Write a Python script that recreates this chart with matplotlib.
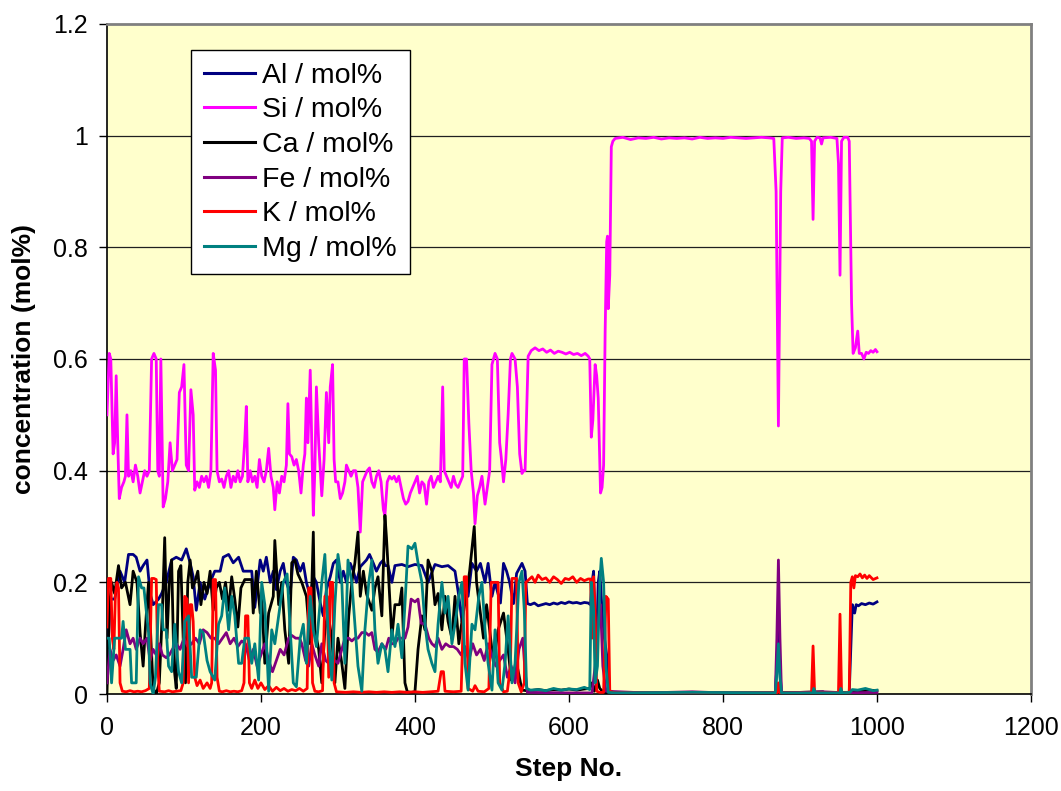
import numpy as np
import matplotlib
matplotlib.use('Agg')
import matplotlib.pyplot as plt

# font
plt.rcParams['font.family'] = ['Liberation Sans', 'DejaVu Sans']

# data: (step, concentration)
al_pts = [(0, 0.02), (4, 0.17), (10, 0.17), (17, 0.22), (23, 0.2), (28, 0.25), (34, 0.25), (38, 0.245),
          (43, 0.22), (47, 0.23), (52, 0.24), (56, 0.18), (60, 0.16), (67, 0.17), (71, 0.18), (77, 0.2),
          (84, 0.24), (90, 0.245), (97, 0.24), (103, 0.26), (108, 0.235), (112, 0.21), (116, 0.15),
          (121, 0.2), (127, 0.17), (134, 0.2), (140, 0.22), (147, 0.22), (151, 0.245), (158, 0.25),
          (164, 0.235), (171, 0.245), (177, 0.22), (179, 0.22), (188, 0.22), (192, 0.155), (199, 0.24),
          (203, 0.22), (207, 0.245), (212, 0.2), (216, 0.22), (220, 0.187), (225, 0.22), (229, 0.234),
          (233, 0.2), (238, 0.18), (242, 0.245), (246, 0.24), (251, 0.22), (255, 0.234), (259, 0.2),
          (264, 0.175), (268, 0.21), (272, 0.2), (277, 0.163), (281, 0.14), (285, 0.187), (290, 0.21),
          (294, 0.234), (298, 0.24), (303, 0.2), (307, 0.22), (311, 0.2), (316, 0.234), (320, 0.22),
          (324, 0.2), (329, 0.228), (333, 0.234), (337, 0.24), (341, 0.25), (346, 0.234), (350, 0.22),
          (355, 0.234), (359, 0.24), (361, 0.23), (365, 0.23), (370, 0.2), (374, 0.23), (383, 0.232),
          (391, 0.228), (400, 0.232), (409, 0.23), (417, 0.2), (426, 0.232), (435, 0.228), (443, 0.23),
          (452, 0.22), (457, 0.175), (461, 0.13), (465, 0.2), (469, 0.175), (474, 0.234), (480, 0.22),
          (485, 0.234), (491, 0.2), (495, 0.234), (500, 0.175), (504, 0.2), (511, 0.163), (515, 0.234),
          (519, 0.22), (523, 0.2), (528, 0.162), (532, 0.216), (539, 0.234), (543, 0.22), (546, 0.162),
          (550, 0.16), (555, 0.163), (560, 0.158), (565, 0.16), (570, 0.162), (575, 0.16), (580, 0.163),
          (585, 0.161), (590, 0.164), (595, 0.162), (600, 0.165), (605, 0.163), (610, 0.164),
          (615, 0.162), (620, 0.164), (625, 0.163), (628, 0.16), (630, 0.2), (632, 0.22), (634, 0.12),
          (636, 0.1), (638, 0.2), (640, 0.22), (643, 0.15), (646, 0.1), (648, 0.08), (650, 0.06),
          (653, 0.005), (660, 0.002), (760, 0.002), (868, 0.002), (870, 0.05), (872, 0.14), (874, 0.04),
          (876, 0.002), (964, 0.003), (966, 0.08), (968, 0.16), (971, 0.145), (973, 0.16), (976, 0.158),
          (980, 0.162), (985, 0.16), (990, 0.163), (995, 0.161), (1000, 0.165)]

si_pts = [(0, 0.5), (3, 0.61), (5, 0.6), (8, 0.43), (10, 0.45), (12, 0.57), (14, 0.45), (16, 0.35),
          (19, 0.37), (22, 0.38), (24, 0.39), (26, 0.5), (28, 0.39), (31, 0.4), (34, 0.38), (37, 0.41),
          (40, 0.39), (43, 0.36), (46, 0.38), (49, 0.4), (52, 0.39), (55, 0.4), (58, 0.6), (61, 0.61),
          (64, 0.6), (66, 0.4), (68, 0.39), (70, 0.6), (73, 0.335), (76, 0.35), (79, 0.38), (82, 0.45),
          (85, 0.4), (88, 0.41), (91, 0.42), (94, 0.54), (97, 0.55), (100, 0.59), (103, 0.41),
          (106, 0.4), (109, 0.545), (112, 0.5), (114, 0.365), (117, 0.38), (120, 0.37), (123, 0.39),
          (126, 0.38), (129, 0.39), (132, 0.37), (135, 0.4), (138, 0.61), (141, 0.58), (143, 0.4),
          (146, 0.38), (149, 0.385), (152, 0.37), (155, 0.39), (158, 0.4), (161, 0.37), (164, 0.39),
          (167, 0.38), (170, 0.4), (173, 0.38), (176, 0.39), (179, 0.455), (181, 0.515), (183, 0.38),
          (186, 0.4), (189, 0.38), (192, 0.39), (195, 0.37), (198, 0.42), (201, 0.39), (204, 0.38),
          (207, 0.4), (210, 0.44), (213, 0.39), (216, 0.37), (218, 0.33), (221, 0.38), (224, 0.36),
          (227, 0.39), (230, 0.38), (233, 0.41), (235, 0.52), (237, 0.43), (240, 0.425), (243, 0.41),
          (246, 0.42), (249, 0.4), (252, 0.36), (255, 0.41), (257, 0.43), (259, 0.53), (261, 0.45),
          (264, 0.58), (266, 0.45), (268, 0.32), (270, 0.4), (272, 0.55), (275, 0.45), (279, 0.355),
          (282, 0.42), (285, 0.54), (288, 0.45), (290, 0.55), (293, 0.59), (295, 0.42), (297, 0.38),
          (300, 0.38), (303, 0.35), (306, 0.36), (309, 0.38), (311, 0.41), (314, 0.4), (317, 0.39),
          (320, 0.4), (323, 0.4), (326, 0.37), (329, 0.29), (332, 0.38), (335, 0.39), (338, 0.4),
          (341, 0.405), (344, 0.38), (347, 0.37), (350, 0.39), (353, 0.4), (356, 0.38), (359, 0.33),
          (361, 0.32), (364, 0.38), (367, 0.39), (370, 0.385), (373, 0.39), (376, 0.38), (379, 0.39),
          (382, 0.37), (385, 0.35), (388, 0.34), (391, 0.345), (394, 0.36), (397, 0.37), (400, 0.38),
          (403, 0.39), (406, 0.36), (409, 0.38), (412, 0.375), (415, 0.34), (418, 0.38), (421, 0.39),
          (424, 0.37), (427, 0.38), (430, 0.39), (433, 0.38), (436, 0.55), (438, 0.4), (441, 0.39),
          (444, 0.38), (447, 0.37), (450, 0.39), (453, 0.375), (456, 0.37), (459, 0.38), (462, 0.39),
          (464, 0.6), (467, 0.6), (470, 0.485), (473, 0.4), (476, 0.36), (478, 0.305), (481, 0.355),
          (484, 0.37), (487, 0.39), (491, 0.34), (494, 0.37), (497, 0.4), (500, 0.59), (504, 0.61),
          (507, 0.6), (510, 0.45), (512, 0.425), (515, 0.38), (518, 0.42), (521, 0.5), (524, 0.6),
          (526, 0.61), (530, 0.6), (533, 0.55), (536, 0.43), (539, 0.395), (541, 0.4), (543, 0.4),
          (547, 0.605), (551, 0.615), (556, 0.62), (561, 0.615), (566, 0.618), (571, 0.612),
          (576, 0.616), (581, 0.61), (586, 0.614), (591, 0.612), (596, 0.609), (601, 0.612),
          (606, 0.608), (611, 0.61), (616, 0.606), (621, 0.61), (625, 0.605), (627, 0.6), (629, 0.46),
          (631, 0.49), (634, 0.59), (636, 0.57), (638, 0.53), (641, 0.36), (643, 0.37), (645, 0.41),
          (647, 0.65), (649, 0.81), (650, 0.82), (651, 0.69), (653, 0.75), (655, 0.98), (657, 0.99),
          (660, 0.995), (670, 0.997), (680, 0.993), (690, 0.996), (700, 0.995), (710, 0.997),
          (720, 0.994), (730, 0.996), (740, 0.995), (750, 0.996), (760, 0.994), (770, 0.997),
          (780, 0.995), (790, 0.996), (800, 0.995), (810, 0.997), (820, 0.996), (830, 0.995),
          (840, 0.996), (850, 0.997), (860, 0.996), (866, 0.995), (869, 0.9), (872, 0.48), (875, 0.9),
          (877, 0.996), (885, 0.997), (895, 0.995), (905, 0.996), (912, 0.995), (915, 0.99),
          (917, 0.85), (919, 0.99), (922, 0.997), (926, 0.996), (928, 0.985), (930, 0.996),
          (940, 0.997), (948, 0.995), (950, 0.95), (952, 0.75), (954, 0.99), (957, 0.997),
          (962, 0.997), (964, 0.99), (967, 0.7), (969, 0.61), (972, 0.62), (975, 0.65), (977, 0.61),
          (980, 0.61), (983, 0.6), (986, 0.612), (989, 0.61), (992, 0.615), (995, 0.612),
          (998, 0.617), (1000, 0.613)]

ca_pts = [(0, 0.0), (3, 0.15), (6, 0.2), (10, 0.18), (15, 0.23), (19, 0.19), (24, 0.2), (30, 0.16),
          (34, 0.22), (39, 0.2), (43, 0.11), (47, 0.05), (50, 0.12), (54, 0.2), (57, 0.1), (60, 0.01),
          (64, 0.0), (68, 0.02), (72, 0.15), (75, 0.28), (78, 0.1), (81, 0.2), (84, 0.24), (87, 0.05),
          (90, 0.01), (93, 0.22), (96, 0.23), (99, 0.1), (102, 0.02), (105, 0.2), (108, 0.24),
          (111, 0.19), (114, 0.2), (118, 0.22), (122, 0.16), (126, 0.2), (130, 0.18), (134, 0.22),
          (138, 0.15), (142, 0.19), (146, 0.2), (150, 0.17), (154, 0.2), (158, 0.15), (162, 0.21),
          (166, 0.17), (170, 0.12), (174, 0.19), (179, 0.205), (188, 0.205), (190, 0.145), (194, 0.22),
          (199, 0.145), (201, 0.175), (205, 0.055), (210, 0.145), (216, 0.175), (218, 0.275),
          (223, 0.16), (227, 0.2), (231, 0.115), (236, 0.055), (240, 0.235), (244, 0.24), (248, 0.215),
          (253, 0.2), (259, 0.175), (264, 0.09), (268, 0.29), (270, 0.115), (275, 0.08), (279, 0.02),
          (283, 0.115), (287, 0.145), (292, 0.1), (296, 0.02), (300, 0.1), (305, 0.055), (309, 0.01),
          (314, 0.14), (318, 0.2), (322, 0.235), (326, 0.29), (329, 0.175), (333, 0.22), (337, 0.18),
          (344, 0.15), (348, 0.19), (352, 0.21), (357, 0.14), (361, 0.32), (363, 0.28), (365, 0.23),
          (370, 0.1), (374, 0.16), (380, 0.16), (383, 0.19), (387, 0.02), (390, 0.004), (395, 0.003),
          (400, 0.004), (404, 0.08), (409, 0.14), (413, 0.115), (417, 0.24), (422, 0.22), (426, 0.16),
          (430, 0.18), (435, 0.115), (439, 0.175), (443, 0.13), (448, 0.1), (452, 0.175), (457, 0.09),
          (461, 0.13), (467, 0.18), (471, 0.22), (477, 0.3), (480, 0.2), (485, 0.145), (489, 0.1),
          (493, 0.16), (497, 0.115), (502, 0.055), (508, 0.115), (515, 0.145), (521, 0.08),
          (525, 0.025), (532, 0.055), (539, 0.007), (545, 0.006), (550, 0.006), (560, 0.008),
          (570, 0.006), (580, 0.008), (590, 0.007), (600, 0.009), (610, 0.007), (620, 0.009),
          (627, 0.01), (630, 0.02), (633, 0.005), (637, 0.025), (640, 0.01), (645, 0.003),
          (655, 0.002), (760, 0.002), (870, 0.002), (872, 0.01), (875, 0.002), (930, 0.004),
          (932, 0.002), (965, 0.003), (970, 0.006), (980, 0.005), (990, 0.007), (1000, 0.006)]

fe_pts = [(0, 0.02), (4, 0.08), (8, 0.06), (12, 0.07), (17, 0.05), (21, 0.08), (25, 0.115), (30, 0.09),
          (34, 0.1), (38, 0.08), (43, 0.1), (47, 0.09), (52, 0.1), (56, 0.06), (60, 0.08), (64, 0.07),
          (68, 0.09), (72, 0.07), (77, 0.065), (81, 0.07), (85, 0.08), (90, 0.09), (95, 0.08),
          (100, 0.1), (105, 0.085), (110, 0.09), (115, 0.1), (120, 0.09), (125, 0.115), (130, 0.11),
          (135, 0.1), (140, 0.1), (145, 0.09), (150, 0.1), (155, 0.11), (160, 0.09), (165, 0.1),
          (170, 0.085), (175, 0.095), (180, 0.09), (185, 0.06), (190, 0.08), (195, 0.05), (200, 0.07),
          (205, 0.09), (210, 0.06), (215, 0.04), (220, 0.06), (225, 0.08), (230, 0.07), (236, 0.1),
          (240, 0.105), (245, 0.1), (250, 0.1), (253, 0.09), (258, 0.06), (262, 0.05), (266, 0.09),
          (270, 0.07), (275, 0.05), (279, 0.09), (284, 0.06), (288, 0.055), (292, 0.055), (296, 0.06),
          (300, 0.055), (305, 0.08), (309, 0.1), (314, 0.1), (318, 0.095), (322, 0.1), (326, 0.1),
          (331, 0.11), (336, 0.11), (340, 0.105), (344, 0.11), (348, 0.08), (352, 0.075), (357, 0.09),
          (362, 0.08), (366, 0.1), (370, 0.09), (374, 0.09), (378, 0.1), (383, 0.1), (387, 0.1),
          (391, 0.12), (395, 0.17), (400, 0.165), (404, 0.17), (408, 0.127), (413, 0.125), (418, 0.1),
          (422, 0.09), (426, 0.085), (430, 0.1), (435, 0.08), (440, 0.09), (445, 0.085), (450, 0.085),
          (455, 0.08), (460, 0.07), (465, 0.085), (470, 0.06), (475, 0.09), (480, 0.07), (485, 0.08),
          (490, 0.06), (495, 0.09), (500, 0.07), (505, 0.05), (510, 0.06), (515, 0.07), (520, 0.03),
          (525, 0.05), (530, 0.02), (535, 0.08), (540, 0.1), (543, 0.04), (546, 0.003), (600, 0.002),
          (630, 0.002), (634, 0.05), (638, 0.13), (641, 0.16), (644, 0.05), (648, 0.005),
          (700, 0.002), (760, 0.004), (800, 0.002), (868, 0.002), (870, 0.1), (872, 0.24), (874, 0.1),
          (876, 0.002), (930, 0.004), (960, 0.002), (1000, 0.003)]

k_pts = [(0, 0.12), (2, 0.207), (5, 0.207), (7, 0.1), (9, 0.08), (11, 0.18), (13, 0.2), (15, 0.19),
         (17, 0.02), (20, 0.005), (25, 0.004), (30, 0.006), (35, 0.004), (40, 0.005), (45, 0.004),
         (50, 0.006), (55, 0.01), (58, 0.207), (61, 0.207), (64, 0.205), (66, 0.05), (68, 0.005),
         (75, 0.004), (80, 0.006), (85, 0.004), (90, 0.005), (96, 0.006), (99, 0.02), (101, 0.175),
         (104, 0.17), (106, 0.02), (108, 0.16), (110, 0.16), (112, 0.13), (114, 0.03), (117, 0.015),
         (121, 0.025), (125, 0.01), (130, 0.02), (134, 0.01), (136, 0.02), (138, 0.205), (141, 0.205),
         (143, 0.03), (146, 0.005), (150, 0.004), (155, 0.006), (160, 0.004), (165, 0.005),
         (170, 0.004), (175, 0.006), (178, 0.02), (180, 0.14), (183, 0.14), (185, 0.02), (188, 0.01),
         (192, 0.025), (196, 0.01), (200, 0.02), (205, 0.008), (210, 0.015), (215, 0.005),
         (220, 0.012), (225, 0.006), (230, 0.01), (235, 0.005), (240, 0.008), (245, 0.006),
         (250, 0.01), (255, 0.005), (260, 0.01), (262, 0.19), (265, 0.19), (267, 0.02), (270, 0.005),
         (275, 0.004), (280, 0.006), (283, 0.175), (286, 0.175), (288, 0.03), (290, 0.2), (293, 0.2),
         (295, 0.02), (298, 0.004), (310, 0.003), (320, 0.004), (330, 0.003), (340, 0.004),
         (350, 0.003), (360, 0.004), (370, 0.003), (380, 0.004), (390, 0.003), (400, 0.004),
         (410, 0.003), (420, 0.004), (430, 0.005), (434, 0.04), (437, 0.04), (439, 0.005),
         (450, 0.004), (460, 0.005), (462, 0.1), (464, 0.21), (467, 0.21), (469, 0.01), (475, 0.005),
         (478, 0.015), (482, 0.005), (490, 0.004), (496, 0.01), (499, 0.2), (504, 0.2), (508, 0.2),
         (510, 0.02), (515, 0.004), (520, 0.005), (524, 0.05), (526, 0.207), (532, 0.207),
         (534, 0.02), (538, 0.004), (542, 0.02), (544, 0.2), (548, 0.205), (552, 0.21), (556, 0.2),
         (560, 0.213), (565, 0.205), (570, 0.208), (575, 0.2), (580, 0.21), (585, 0.205),
         (590, 0.198), (595, 0.207), (600, 0.205), (605, 0.21), (610, 0.2), (615, 0.207),
         (620, 0.203), (625, 0.206), (628, 0.206), (630, 0.1), (632, 0.21), (634, 0.15),
         (636, 0.005), (640, 0.003), (645, 0.003), (648, 0.175), (651, 0.17), (653, 0.005),
         (660, 0.002), (870, 0.002), (872, 0.02), (874, 0.002), (915, 0.002), (917, 0.086),
         (919, 0.002), (950, 0.002), (952, 0.143), (954, 0.002), (964, 0.003), (966, 0.2),
         (968, 0.21), (970, 0.19), (972, 0.212), (975, 0.21), (978, 0.215), (981, 0.208),
         (984, 0.213), (987, 0.207), (990, 0.212), (995, 0.205), (1000, 0.208)]

mg_pts = [(0, 0.1), (3, 0.1), (6, 0.02), (10, 0.1), (15, 0.1), (19, 0.1), (21, 0.13), (24, 0.08),
          (30, 0.08), (32, 0.02), (38, 0.02), (41, 0.21), (45, 0.19), (48, 0.19), (54, 0.11),
          (56, 0.02), (60, 0.0), (63, 0.03), (67, 0.16), (71, 0.16), (73, 0.115), (77, 0.115),
          (80, 0.05), (84, 0.04), (88, 0.125), (93, 0.04), (97, 0.02), (101, 0.13), (106, 0.14),
          (110, 0.03), (116, 0.03), (121, 0.115), (125, 0.11), (130, 0.06), (134, 0.04), (140, 0.025),
          (145, 0.125), (149, 0.14), (153, 0.19), (158, 0.115), (162, 0.175), (166, 0.14), (171, 0.055),
          (175, 0.055), (179, 0.1), (184, 0.1), (188, 0.055), (192, 0.09), (197, 0.025), (201, 0.2),
          (205, 0.16), (210, 0.005), (214, 0.115), (218, 0.09), (223, 0.14), (229, 0.2), (234, 0.215),
          (238, 0.115), (242, 0.02), (246, 0.013), (251, 0.1), (255, 0.125), (259, 0.055),
          (264, 0.175), (268, 0.115), (272, 0.085), (279, 0.2), (283, 0.25), (287, 0.115),
          (292, 0.025), (296, 0.16), (300, 0.25), (305, 0.2), (309, 0.055), (313, 0.24), (318, 0.2),
          (322, 0.125), (326, 0.05), (331, 0.005), (335, 0.115), (340, 0.2), (344, 0.24),
          (348, 0.115), (352, 0.055), (357, 0.09), (361, 0.08), (365, 0.04), (370, 0.115),
          (374, 0.085), (378, 0.125), (383, 0.065), (387, 0.16), (391, 0.265), (396, 0.26),
          (400, 0.27), (404, 0.235), (409, 0.2), (413, 0.125), (417, 0.08), (422, 0.055),
          (426, 0.04), (430, 0.125), (435, 0.2), (439, 0.145), (443, 0.175), (448, 0.09),
          (452, 0.125), (457, 0.175), (461, 0.2), (465, 0.055), (469, 0.007), (474, 0.125),
          (478, 0.115), (483, 0.175), (487, 0.2), (491, 0.115), (495, 0.055), (500, 0.007),
          (504, 0.115), (508, 0.02), (513, 0.007), (517, 0.055), (521, 0.14), (526, 0.02),
          (530, 0.055), (535, 0.2), (539, 0.22), (542, 0.15), (545, 0.01), (550, 0.007),
          (560, 0.008), (570, 0.006), (580, 0.01), (590, 0.007), (600, 0.009), (610, 0.008),
          (620, 0.012), (627, 0.008), (629, 0.2), (632, 0.15), (634, 0.02), (637, 0.05), (640, 0.2),
          (642, 0.243), (645, 0.2), (648, 0.05), (651, 0.003), (660, 0.002), (760, 0.003),
          (868, 0.002), (870, 0.04), (872, 0.09), (874, 0.03), (876, 0.002), (917, 0.002),
          (918, 0.01), (920, 0.002), (952, 0.002), (953, 0.01), (955, 0.002), (965, 0.003),
          (968, 0.008), (975, 0.007), (985, 0.01), (995, 0.006), (1000, 0.007)]

labels = ['Al / mol%', 'Si / mol%', 'Ca / mol%', 'Fe / mol%', 'K / mol%', 'Mg / mol%']
colors = ['#000080', '#FF00FF', '#000000', '#800080', '#FF0000', '#008080']

xticks = [0, 200, 400, 600, 800, 1000, 1200]
yticks = [0, 0.2, 0.4, 0.6, 0.8, 1.0, 1.2]
ytick_labels = ['0', '0.2', '0.4', '0.6', '0.8', '1', '1.2']

tam = 18

fig = plt.figure(figsize=(10.61, 7.91), dpi=100)
ax = fig.add_axes([0.1008, 0.1226, 0.8709, 0.8471])
ax.set_facecolor('#FFFFCC')

# horizontal grid lines
for yv in yticks[1:-1]:
    ax.axhline(yv, color='#202020', linewidth=0.9, zorder=1)

# the six series
for pts, lab, col in zip([al_pts, si_pts, ca_pts, fe_pts, k_pts, mg_pts], labels, colors):
    xs = [p[0] for p in pts]
    ys = [p[1] for p in pts]
    ax.plot(xs, ys, color=col, linewidth=2.0, label=lab, zorder=3)

ax.set_xlim(0, 1200)
ax.set_ylim(0, 1.2)
ax.set_xticks(xticks)
ax.set_yticks(yticks)
ax.set_yticklabels(ytick_labels)
ax.tick_params(axis='both', direction='out', length=6, width=1.0, labelsize=tam)
ax.tick_params(axis='y', pad=8)
ax.tick_params(axis='x', pad=10)

# frame
ax.spines['left'].set_color('black')
ax.spines['bottom'].set_color('black')
ax.spines['top'].set_color('#808080')
ax.spines['right'].set_color('#808080')
for s in ['left', 'bottom']:
    ax.spines[s].set_linewidth(1.2)
for s in ['top', 'right']:
    ax.spines[s].set_linewidth(2.0)

ax.set_xlabel('Step No.', fontsize=19, fontweight='bold', labelpad=12)
ax.set_ylabel('concentration (mol%)', fontsize=19, fontweight='bold', labelpad=12)

leg = ax.legend(loc='upper left', bbox_to_anchor=(0.091, 0.961), borderaxespad=0,
                fontsize=20.5, frameon=True, fancybox=False, edgecolor='black',
                framealpha=1, handlelength=1.8, handletextpad=0.25, labelspacing=0.3,
                borderpad=0.45)
leg.get_frame().set_linewidth(1.0)
for line in leg.get_lines():
    line.set_linewidth(2.2)

plt.savefig('out.png', dpi=100)
